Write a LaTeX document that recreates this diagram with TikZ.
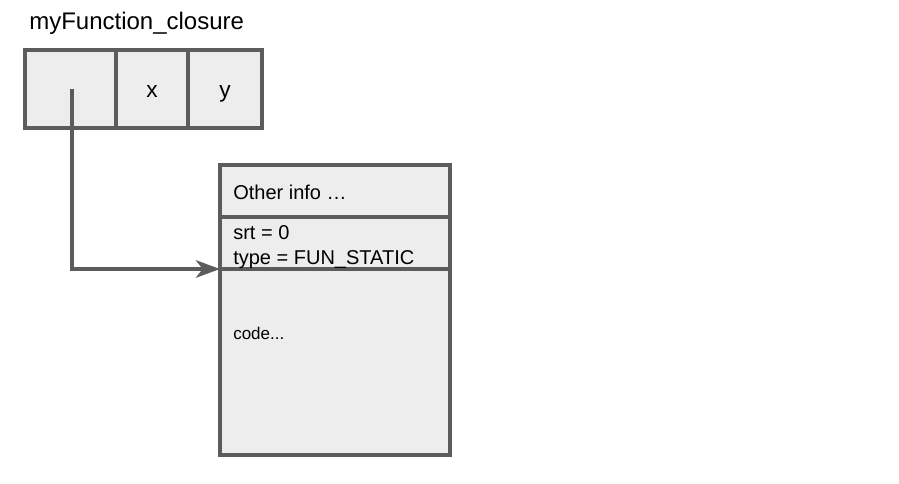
\documentclass[tikz,border=0pt]{standalone}
\usepackage{fontspec}
\setmainfont{Liberation Sans}
\usepackage{xcolor}
\usetikzlibrary{arrows.meta,positioning}
\definecolor{CellGray}{RGB}{237,237,237}
\definecolor{EdgeGray}{RGB}{92,92,92}

\tikzset{
  cell/.style={draw=EdgeGray, fill=CellGray, line width=3pt, inner sep=0pt, outer sep=0pt},
  celltext/.style={font=\fontsize{15}{18}\selectfont, inner sep=0pt, anchor=west},
  fieldtext/.style={font=\fontsize{17}{20}\selectfont, inner sep=0pt, anchor=base},
}

\begin{document}
\begin{tikzpicture}[x=0.75pt,y=-0.75pt]
        \useasboundingbox (0,0) rectangle (899,483);
        % closure record
        \node[anchor=south west, inner sep=0pt, font=\fontsize{18}{21}\selectfont] (title) at (29,35) {myFunction\_closure};
        \node[cell, minimum width=68.25pt, minimum height=58.5pt] (ptr) at (70.5,89) {};
        \node[cell, minimum width=54pt, minimum height=58.5pt, right=0pt of ptr] (xcell) {};
        \node[cell, minimum width=55.5pt, minimum height=58.5pt, right=0pt of xcell] (ycell) {};
        \node[fieldtext] (xtext) at (152,97.5) {x};
        \node[fieldtext] (ytext) at (225,97.5) {y};
        \coordinate (ptrsrc) at (72,89);
        % function info block
        \node[cell, minimum width=172.5pt, minimum height=39pt] (info) at (335,191) {};
        \node[cell, minimum width=172.5pt, minimum height=39pt, below=0pt of info] (meta) {};
        \node[cell, minimum width=172.5pt, minimum height=139.5pt, below=0pt of meta] (code) {};
        \node[celltext] (infotext) at (233,192) {Other info \ldots};
        \node[celltext, align=left, font=\fontsize{15}{18.75}\selectfont] (metatext) at (233,247) {srt = 0\\type = FUN\_STATIC};
        \node[celltext, font=\fontsize{12.75}{15}\selectfont] (codetext) at (233,333) {code...};
        % pointer
        \draw[-{Stealth[length=18pt,width=13pt,inset=5pt]}, EdgeGray, line width=3pt] (ptrsrc) |- (code.north west);
      \end{tikzpicture}
\end{document}
